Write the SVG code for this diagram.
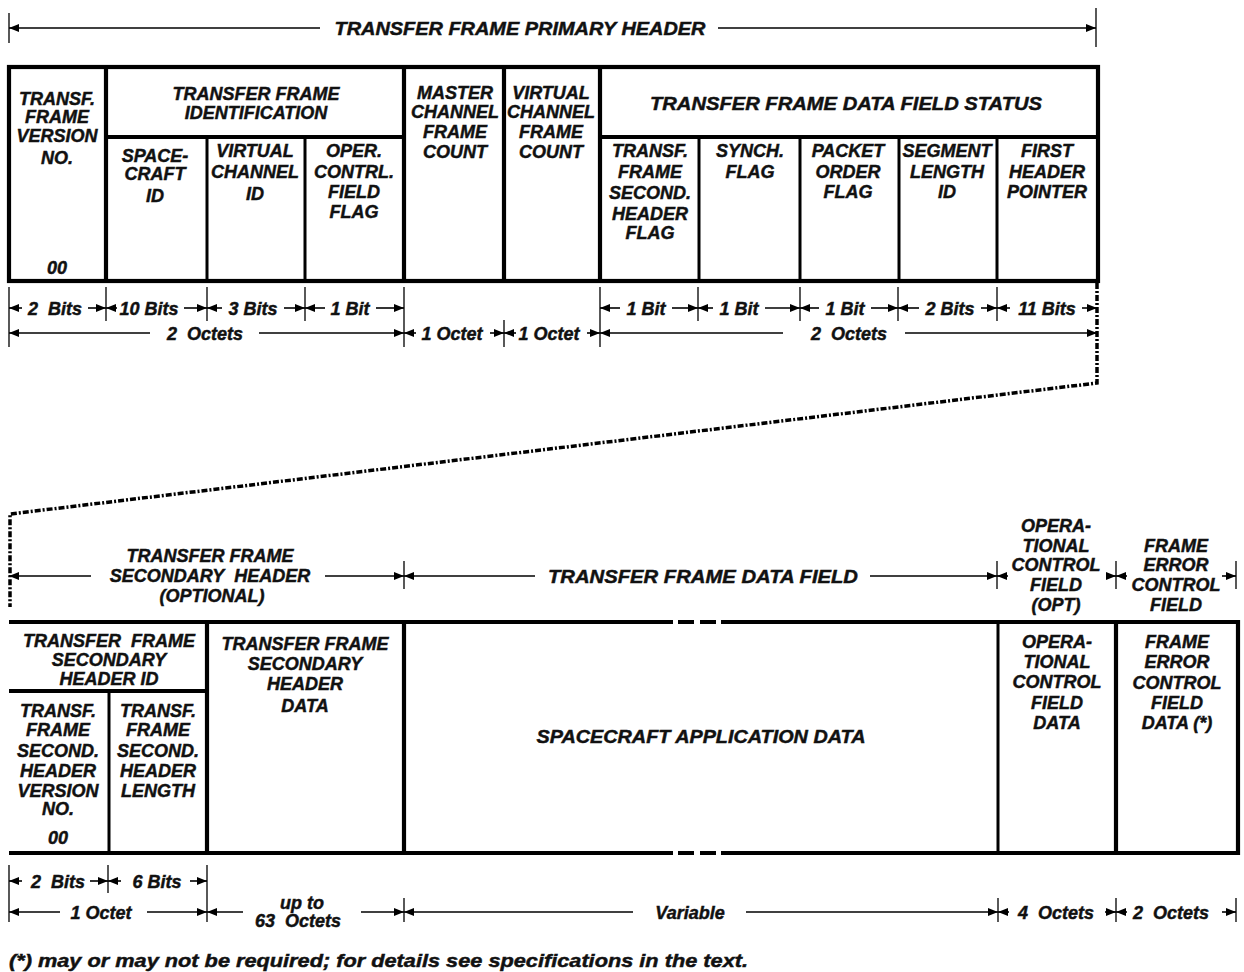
<svg xmlns="http://www.w3.org/2000/svg" width="1244" height="972" viewBox="0 0 1244 972">
<defs>
<style>
.t{font-family:"Liberation Sans",Arial,sans-serif;font-weight:bold;font-style:italic;font-size:18px;fill:#111;stroke:#111;stroke-width:0.45;text-anchor:middle}
.ts{text-anchor:start}
.b{stroke:#000;fill:none;stroke-width:4.2}
.th{stroke:#000;fill:none;stroke-width:3}
.dim{stroke:#000;stroke-width:1.6;fill:none;marker-end:url(#ah)}
.tick{stroke:#000;stroke-width:1.3;fill:none}
.dash{stroke:#000;stroke-width:3.5;fill:none;stroke-dasharray:6 2 2 2}
</style>
<marker id="ah" viewBox="0 0 10 8" refX="10" refY="4" markerWidth="10" markerHeight="8" markerUnits="userSpaceOnUse" orient="auto"><path d="M0,0 L10,4 L0,8 z" fill="#000"/></marker>
</defs>
<rect width="1244" height="972" fill="#fff"/>

<!-- connectors / dimension lines -->
<g id="connectors">
  <path class="tick" d="M9,13V43M1096,8V47"/>
  <path class="dim" d="M320,28H9"/>
  <path class="dim" d="M718,28H1096"/>
  <path class="tick" d="M9,287V347M106,287V321M207,287V321M305,287V321M404,287V347M504,320V347M600,287V347M698,287V321M800,287V321M898,287V321M997,287V321"/>
  <path class="dim" d="M22,308H9"/><path class="dim" d="M88,308H106"/>
  <path class="dim" d="M117,308H106"/><path class="dim" d="M184,308H207"/>
  <path class="dim" d="M222,308H207"/><path class="dim" d="M284,308H305"/>
  <path class="dim" d="M325,308H305"/><path class="dim" d="M376,308H404"/>
  <path class="dim" d="M620,308H600"/><path class="dim" d="M672,308H698"/>
  <path class="dim" d="M713,308H698"/><path class="dim" d="M765,308H800"/>
  <path class="dim" d="M819,308H800"/><path class="dim" d="M871,308H898"/>
  <path class="dim" d="M919,308H898"/><path class="dim" d="M981,308H997"/>
  <path class="dim" d="M1010,308H997"/><path class="dim" d="M1082,308H1097"/>
  <path class="dim" d="M150,333H9"/><path class="dim" d="M259,333H404"/>
  <path class="dim" d="M416,333H404"/><path class="dim" d="M490,333H504"/>
  <path class="dim" d="M516,333H504"/><path class="dim" d="M587,333H600"/>
  <path class="dim" d="M783,333H600"/><path class="dim" d="M905,333H1097"/>
  <path class="dash" d="M1097,283V383L10,514V607"/>
  <path class="tick" d="M404,561V589M997,561V589M1116,561V589M1236,561V589"/>
  <path class="dim" d="M91,576H9"/><path class="dim" d="M325,576H404"/>
  <path class="dim" d="M535,576H404"/><path class="dim" d="M870,576H997"/>
  <path class="dim" d="M1008,576H997"/><path class="dim" d="M1106,576H1116"/>
  <path class="dim" d="M1127,576H1116"/><path class="dim" d="M1222,576H1236"/>
  <path class="tick" d="M9,865V922M108,865V893M207,865V922M404,898V922M998,898V922M1116,898V922M1236,898V922"/>
  <path class="dim" d="M22,881H9"/><path class="dim" d="M90,881H108"/>
  <path class="dim" d="M121,881H108"/><path class="dim" d="M190,881H207"/>
  <path class="dim" d="M60,912H9"/><path class="dim" d="M147,912H207"/>
  <path class="dim" d="M243,912H207"/><path class="dim" d="M361,912H404"/>
  <path class="dim" d="M633,912H404"/><path class="dim" d="M746,912H998"/>
  <path class="dim" d="M1009,912H998"/><path class="dim" d="M1105,912H1116"/>
  <path class="dim" d="M1127,912H1116"/><path class="dim" d="M1222,912H1236"/>
</g>

<!-- dimension labels -->
<g id="dim-labels">
  <text class="t" x="520" y="34.5" textLength="371" lengthAdjust="spacingAndGlyphs">TRANSFER FRAME PRIMARY HEADER</text>
  <text class="t" x="55" y="314.5">2&#160; Bits</text>
  <text class="t" x="149" y="314.5">10 Bits</text>
  <text class="t" x="253" y="314.5">3 Bits</text>
  <text class="t" x="350" y="314.5">1 Bit</text>
  <text class="t" x="646" y="314.5">1 Bit</text>
  <text class="t" x="739" y="314.5">1 Bit</text>
  <text class="t" x="845" y="314.5">1 Bit</text>
  <text class="t" x="950" y="314.5">2 Bits</text>
  <text class="t" x="1047" y="314.5">11 Bits</text>
  <text class="t" x="205" y="339.5">2&#160; Octets</text>
  <text class="t" x="452" y="339.5">1 Octet</text>
  <text class="t" x="549" y="339.5">1 Octet</text>
  <text class="t" x="849" y="339.5">2&#160; Octets</text>
  <text class="t" x="210" y="561.5">TRANSFER FRAME</text>
  <text class="t" x="210" y="581.5">SECONDARY&#160; HEADER</text>
  <text class="t" x="212" y="601.5">(OPTIONAL)</text>
  <text class="t" x="703" y="582.5" textLength="310" lengthAdjust="spacingAndGlyphs">TRANSFER FRAME DATA FIELD</text>
  <text class="t" x="1056" y="531.5">OPERA-</text>
  <text class="t" x="1056" y="551.5">TIONAL</text>
  <text class="t" x="1056" y="571">CONTROL</text>
  <text class="t" x="1056" y="591">FIELD</text>
  <text class="t" x="1056" y="610.5">(OPT)</text>
  <text class="t" x="1176" y="551.5">FRAME</text>
  <text class="t" x="1176" y="571">ERROR</text>
  <text class="t" x="1176" y="591">CONTROL</text>
  <text class="t" x="1176" y="610.5">FIELD</text>
  <text class="t" x="58" y="887.5">2&#160; Bits</text>
  <text class="t" x="157" y="887.5">6 Bits</text>
  <text class="t" x="101" y="918.5">1 Octet</text>
  <text class="t" x="302" y="908.5">up to</text>
  <text class="t" x="298" y="926.5">63&#160; Octets</text>
  <text class="t" x="690" y="918.5">Variable</text>
  <text class="t" x="1056" y="918.5">4&#160; Octets</text>
  <text class="t" x="1171" y="918.5">2&#160; Octets</text>
  <text class="t ts" x="9" y="966.5" textLength="739" lengthAdjust="spacingAndGlyphs">(*) may or may not be required; for details see specifications in the text.</text>
</g>

<!-- primary header table -->
<g id="primary-header-frame">
  <rect class="b" x="9" y="67" width="1089" height="214"/>
  <path class="b" d="M106,67V281M404,67V281M504,67V281M600,67V281M106,137H404M600,137H1098"/>
  <path class="th" d="M207,137V281M305,137V281M699,137V281M800,137V281M899,137V281M997,137V281"/>
</g>
<g id="version-no">
  <text class="t" x="57" y="104.5">TRANSF.</text>
  <text class="t" x="57" y="122.5">FRAME</text>
  <text class="t" x="57" y="141.5">VERSION</text>
  <text class="t" x="57" y="163.5">NO.</text>
  <text class="t" x="57" y="273.5">00</text>
</g>
<g id="frame-identification">
  <text class="t" x="256" y="99.5">TRANSFER FRAME</text>
  <text class="t" x="256" y="118.5">IDENTIFICATION</text>
</g>
<g id="spacecraft-id">
  <text class="t" x="155" y="161.5">SPACE-</text>
  <text class="t" x="155" y="179.5">CRAFT</text>
  <text class="t" x="155" y="201.5">ID</text>
</g>
<g id="virtual-channel-id">
  <text class="t" x="255" y="156.5">VIRTUAL</text>
  <text class="t" x="255" y="177.5">CHANNEL</text>
  <text class="t" x="255" y="199.5">ID</text>
</g>
<g id="ocf-flag">
  <text class="t" x="354" y="156.5">OPER.</text>
  <text class="t" x="354" y="177.5">CONTRL.</text>
  <text class="t" x="354" y="197.5">FIELD</text>
  <text class="t" x="354" y="217.5">FLAG</text>
</g>
<g id="mc-frame-count">
  <text class="t" x="455" y="98.5">MASTER</text>
  <text class="t" x="455" y="117.5">CHANNEL</text>
  <text class="t" x="455" y="137.5">FRAME</text>
  <text class="t" x="455" y="157.5">COUNT</text>
</g>
<g id="vc-frame-count">
  <text class="t" x="551" y="98.5">VIRTUAL</text>
  <text class="t" x="551" y="117.5">CHANNEL</text>
  <text class="t" x="551" y="137.5">FRAME</text>
  <text class="t" x="551" y="157.5">COUNT</text>
</g>
<g id="data-field-status">
  <text class="t" x="846" y="109.5" textLength="392" lengthAdjust="spacingAndGlyphs">TRANSFER FRAME DATA FIELD STATUS</text>
</g>
<g id="sec-header-flag">
  <text class="t" x="650" y="156.5">TRANSF.</text>
  <text class="t" x="650" y="177.5">FRAME</text>
  <text class="t" x="650" y="198.5">SECOND.</text>
  <text class="t" x="650" y="219.5">HEADER</text>
  <text class="t" x="650" y="238.5">FLAG</text>
</g>
<g id="synch-flag">
  <text class="t" x="750" y="156.5">SYNCH.</text>
  <text class="t" x="750" y="177.5">FLAG</text>
</g>
<g id="packet-order-flag">
  <text class="t" x="848" y="156.5">PACKET</text>
  <text class="t" x="848" y="177.5">ORDER</text>
  <text class="t" x="848" y="197.5">FLAG</text>
</g>
<g id="segment-length-id">
  <text class="t" x="947" y="156.5">SEGMENT</text>
  <text class="t" x="947" y="177.5">LENGTH</text>
  <text class="t" x="947" y="197.5">ID</text>
</g>
<g id="first-header-pointer">
  <text class="t" x="1047" y="156.5">FIRST</text>
  <text class="t" x="1047" y="177.5">HEADER</text>
  <text class="t" x="1047" y="197.5">POINTER</text>
</g>

<!-- lower table -->
<g id="data-unit-frame">
  <path class="b" d="M9,622H673M678,622H694M700,622H716M721,622H1238V853H721M716,853H700M694,853H678M673,853H9Z"/>
  <path class="b" d="M207,622V853M404,622V853M1116,622V853M9,691H207"/>
  <path class="th" d="M109,691V853M998,622V853"/>
</g>
<g id="sec-header-id">
  <text class="t" x="109" y="646.5">TRANSFER&#160; FRAME</text>
  <text class="t" x="109" y="666">SECONDARY</text>
  <text class="t" x="109" y="685">HEADER ID</text>
</g>
<g id="sec-header-version">
  <text class="t" x="58" y="716.5">TRANSF.</text>
  <text class="t" x="58" y="735.5">FRAME</text>
  <text class="t" x="58" y="756.5">SECOND.</text>
  <text class="t" x="58" y="776.5">HEADER</text>
  <text class="t" x="58" y="796.5">VERSION</text>
  <text class="t" x="58" y="814.5">NO.</text>
  <text class="t" x="58" y="843.5">00</text>
</g>
<g id="sec-header-length">
  <text class="t" x="158" y="716.5">TRANSF.</text>
  <text class="t" x="158" y="735.5">FRAME</text>
  <text class="t" x="158" y="756.5">SECOND.</text>
  <text class="t" x="158" y="776.5">HEADER</text>
  <text class="t" x="158" y="796.5">LENGTH</text>
</g>
<g id="sec-header-data">
  <text class="t" x="305" y="649.5">TRANSFER FRAME</text>
  <text class="t" x="305" y="669.5">SECONDARY</text>
  <text class="t" x="305" y="689.5">HEADER</text>
  <text class="t" x="305" y="711.5">DATA</text>
</g>
<g id="application-data">
  <text class="t" x="701" y="742.5" textLength="329" lengthAdjust="spacingAndGlyphs">SPACECRAFT APPLICATION DATA</text>
</g>
<g id="ocf-data">
  <text class="t" x="1057" y="647.5">OPERA-</text>
  <text class="t" x="1057" y="667.5">TIONAL</text>
  <text class="t" x="1057" y="687.5">CONTROL</text>
  <text class="t" x="1057" y="708.5">FIELD</text>
  <text class="t" x="1057" y="728.5">DATA</text>
</g>
<g id="fec-data">
  <text class="t" x="1177" y="647.5">FRAME</text>
  <text class="t" x="1177" y="667.5">ERROR</text>
  <text class="t" x="1177" y="688.5">CONTROL</text>
  <text class="t" x="1177" y="708.5">FIELD</text>
  <text class="t" x="1177" y="728.5">DATA (*)</text>
</g>
</svg>
